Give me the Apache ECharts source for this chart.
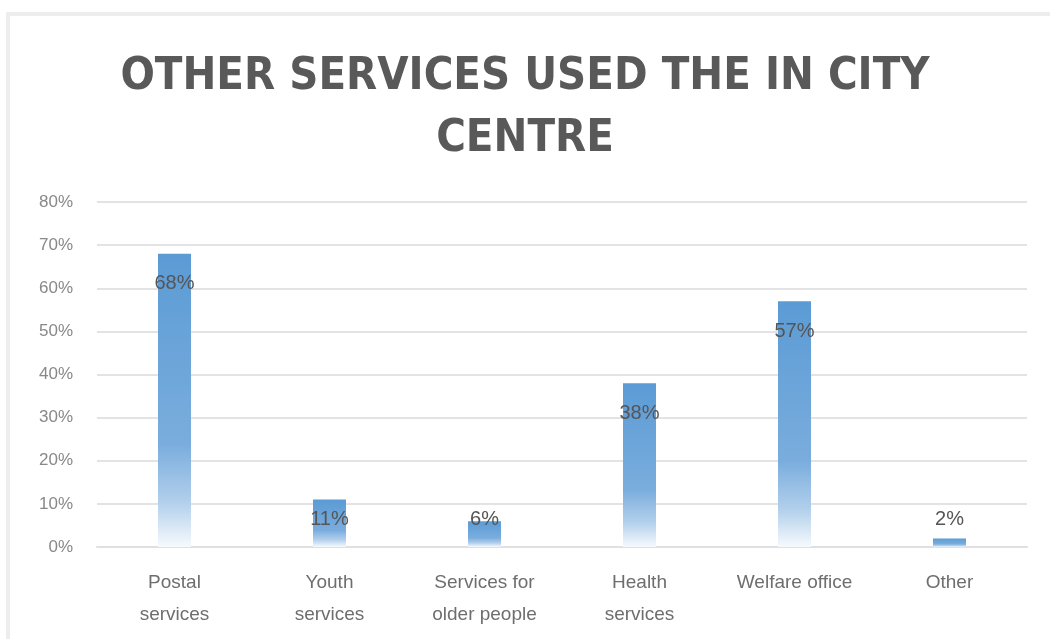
<!DOCTYPE html>
<html>
<head>
<meta charset="utf-8">
<script src="https://cdn.jsdelivr.net/npm/echarts@6/dist/echarts.min.js"></script>
<style>
  html, body { margin: 0; padding: 0; background: #ffffff; }
  #chart { width: 1050px; height: 639px; }
</style>
</head>
<body>
<div id="chart"></div>
<script>
// Services used in the city centre (share of respondents, %)
const categories = [
  'Postal\nservices',
  'Youth\nservices',
  'Services for\nolder people',
  'Health\nservices',
  'Welfare office',
  'Other'
];
const shares = [68, 11, 6, 38, 57, 2];
const yTicks = { min: 0, max: 80, interval: 10 };
const titleText = 'OTHER SERVICES USED THE IN CITY\nCENTRE';

const TITLE_FONT = '"DejaVu Sans Condensed", "Liberation Sans", Arial, sans-serif';
const FONT = '"Liberation Sans", Arial, sans-serif';
const chart = echarts.init(document.getElementById('chart'), null, { renderer: 'canvas' });

const barFill = new echarts.graphic.LinearGradient(0, 0, 0, 1, [
  { offset: 0, color: '#5b9bd5' },
  { offset: 0.65, color: '#7aaddd' },
  { offset: 0.85, color: '#b3d0ec' },
  { offset: 1, color: '#f7fafd' }
]);

chart.setOption({
  animation: false,
  backgroundColor: '#ffffff',
  graphic: [{
    type: 'rect',
    shape: { x: 8, y: 14, width: 1100, height: 700 },
    style: { fill: 'none', stroke: '#ededed', lineWidth: 4 },
    silent: true,
    z: -10
  }],
  title: {
    text: titleText,
    left: 'center',
    top: 41,
    textStyle: {
      fontFamily: TITLE_FONT,
      fontSize: 45,
      fontWeight: 'bold',
      color: '#595959',
      lineHeight: 62
    }
  },
  grid: { left: 97, right: 23, top: 202, bottom: 92 },
  xAxis: {
    type: 'category',
    data: categories,
    axisLine: { show: true, lineStyle: { color: '#e0e0e0', width: 2 } },
    axisTick: { show: false },
    axisLabel: {
      fontFamily: FONT,
      fontSize: 19,
      color: '#6e6e6e',
      lineHeight: 32,
      margin: 20,
      interval: 0
    }
  },
  yAxis: {
    type: 'value',
    min: yTicks.min,
    max: yTicks.max,
    interval: yTicks.interval,
    axisLine: { show: false },
    axisTick: { show: false },
    splitLine: { lineStyle: { color: '#e3e3e3', width: 2 } },
    axisLabel: {
      fontFamily: FONT,
      fontSize: 17,
      color: '#888888',
      margin: 24,
      formatter: v => v + '%'
    }
  },
  series: [{
    type: 'bar',
    data: shares,
    barWidth: 33,
    itemStyle: { color: barFill },
    label: {
      show: true,
      position: 'insideTop',
      distance: 0,
      verticalAlign: 'middle',
      fontFamily: FONT,
      fontSize: 20,
      color: '#555555',
      formatter: p => p.value + '%'
    }
  }]
});

// Label sits ~30px under the bar top, but never lower than just above the baseline
const zeroPx = chart.convertToPixel({ yAxisIndex: 0 }, 0);
const items = shares.map(v => {
  const topPx = chart.convertToPixel({ yAxisIndex: 0 }, v);
  const target = Math.min(topPx + 30, zeroPx - 28);
  return { value: v, label: { offset: [0, target - topPx] } };
});
chart.setOption({ series: [{ data: items }] });
</script>
</body>
</html>
